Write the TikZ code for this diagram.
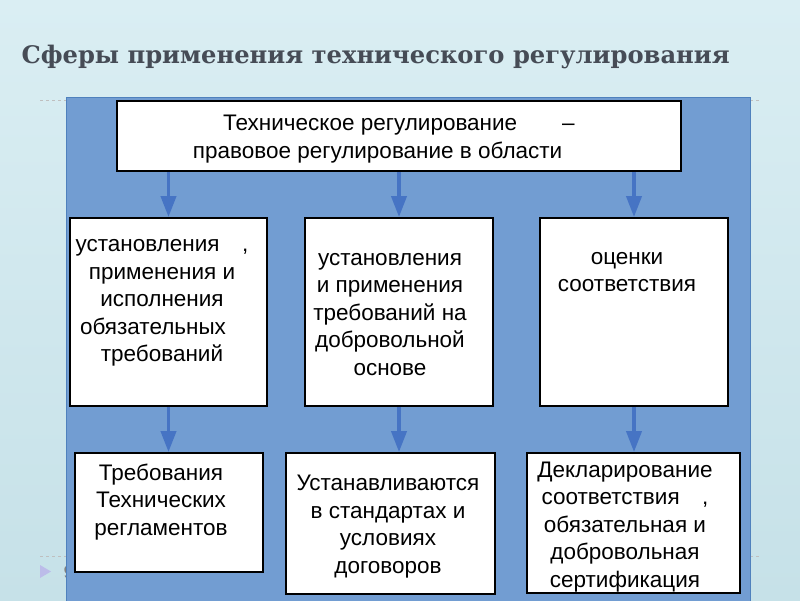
\documentclass[tikz,border=0pt]{standalone}
\usepackage{fontspec}
\setmainfont{Liberation Sans}
\newfontfamily\titlefont{DejaVu Serif}
\usetikzlibrary{arrows.meta}

\definecolor{slidetop}{RGB}{218,238,243}
\definecolor{slidebot}{RGB}{198,225,232}
\definecolor{panelblue}{RGB}{114,157,210}
\definecolor{paneledge}{RGB}{79,129,189}
\definecolor{arrowblue}{RGB}{70,116,196}
\definecolor{titlegray}{RGB}{70,76,86}

\begin{document}
\begin{tikzpicture}[x=1pt,y=-1pt,
    box/.style={draw=black,line width=1.8pt,fill=white,inner sep=0pt},
    txt/.style={align=center,inner sep=0pt,anchor=base,
                font=\fontsize{22.5}{27.5}\selectfont},
    arr/.style={-{Triangle[width=15pt,length=21pt]},draw=arrowblue,
                fill=arrowblue,line width=3.8pt}]

  \useasboundingbox (0,0) rectangle (800,600);
  \shade[top color=slidetop,bottom color=slidebot] (0,0) rectangle (800,600);

  \node[anchor=base west,text=titlegray,
        font=\titlefont\bfseries\fontsize{24.2}{29}\selectfont] (title) at (18,63)
        {Сферы применения технического регулирования};

  \draw[dashed,gray!50] (40,100) -- (66,100) (750,100) -- (762,100);
  \draw[dashed,gray!50] (40,556) -- (66,556) (750,556) -- (762,556);
  \fill[gray!50!blue!35] (40,565) -- (51,571.5) -- (40,578) -- cycle;
  \node[anchor=base west,text=gray,font=\fontsize{18}{20}\selectfont] (pagenum)
        at (60,578) {9};

  \draw[fill=panelblue,draw=paneledge,line width=1pt] (66,97) rectangle (750,602);

  \node[box,minimum width=564,minimum height=70] (top) at (399,136) {};
  \node[box,minimum width=197,minimum height=188] (m1) at (168.5,312) {};
  \node[box,minimum width=188,minimum height=188] (m2) at (399,312) {};
  \node[box,minimum width=188,minimum height=188] (m3) at (634,312) {};
  \node[box,minimum width=188,minimum height=119] (b1) at (169,512.5) {};
  \node[box,minimum width=209,minimum height=141] (b2) at (390.5,523.5) {};
  \node[box,minimum width=213,minimum height=140] (b3) at (633.5,523) {};

  \node[txt] (t0) at (399,158) {Техническое регулирование\hspace{2em}–\\
        правовое регулирование в области\hspace*{1.9em}\mbox{}};
  \node[txt] (t1) at (162,361.7) {установления\quad,\\применения и\\исполнения\\
        обязательных\hspace*{0.8em}\mbox{}\\требований};
  \node[txt] (t2) at (390,375) {установления\\и применения\\требований на\\
        добровольной\\основе};
  \node[txt] (t3) at (627,291.7) {оценки\\соответствия};
  \node[txt] (u1) at (161,535) {Требования\\Технических\\регламентов};
  \node[txt] (u2) at (388,573) {Устанавливаются\\в стандартах и\\условиях\\договоров};
  \node[txt] (u3) at (625,587) {Декларирование\\соответствия\quad,\\
        обязательная и\\добровольная\\сертификация};

  \foreach \m/\b in {m1/b1,m2/b2,m3/b3}{
    \draw[arr] (top.south -| \m.north) -- (\m.north);
    \draw[arr] (\m.south) -- (\m.south |- \b.north);
  }
\end{tikzpicture}
\end{document}
